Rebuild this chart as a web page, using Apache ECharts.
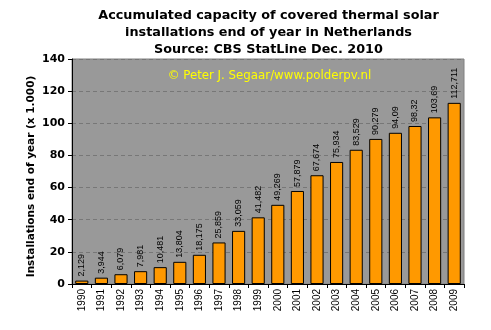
<!DOCTYPE html>
<html><head><meta charset="utf-8">
<script src="https://cdn.jsdelivr.net/npm/echarts@6/dist/echarts.min.js"></script>
<style>html,body{margin:0;padding:0;background:#fff}#c{width:491px;height:330px}</style>
</head><body><div id="c"></div>
<script>
const years = ['1990','1991','1992','1993','1994','1995','1996','1997','1998','1999','2000','2001','2002','2003','2004','2005','2006','2007','2008','2009'];
const values = [2.129,3.944,6.079,7.981,10.481,13.804,18.175,25.859,33.059,41.482,49.269,57.879,67.674,75.934,83.529,90.279,94.09,98.32,103.69,112.711];
const valueLabels = ['2,129','3,944','6,079','7,981','10,481','13,804','18,175','25,859','33,059','41,482','49,269','57,879','67,674','75,934','83,529','90,279','94,09','98,32','103,69','112,711'];
const titleLines = ['Accumulated capacity of covered thermal solar','installations end of year in Netherlands','Source: CBS StatLine Dec. 2010'];
const yAxisTitle = 'Installations end of year (x 1.000)';
const watermark = '\u00a9 Peter J. Segaar/www.polderpv.nl';

const chart = echarts.init(document.getElementById('c'));
chart.setOption({
  animation:false,
  backgroundColor:'#ffffff',
  graphic:[
    {type:'text',x:268.5,y:32.5,style:{text:titleLines.join('\n'),fill:'#000',textAlign:'center',textVerticalAlign:'middle',
      lineHeight:17,font:'bold 12.8px "DejaVu Sans", sans-serif'}},
    {type:'text',x:269.5,y:76,style:{text:watermark,fill:'#ffff00',textAlign:'center',textVerticalAlign:'middle',
      font:'11.8px "DejaVu Sans", sans-serif'}},
    {type:'text',x:31,y:176.5,rotation:Math.PI/2,style:{text:yAxisTitle,fill:'#000',textAlign:'center',textVerticalAlign:'middle',
      font:'bold 10.5px "DejaVu Sans", sans-serif'}}
  ],
  grid:{left:72,right:27,top:59,bottom:46,show:true,backgroundColor:'#999999',borderColor:'#808080',borderWidth:1},
  xAxis:{type:'category',data:years,
    axisLine:{show:true,lineStyle:{color:'#000',width:1}},
    axisTick:{show:true,alignWithLabel:false,length:4,lineStyle:{color:'#000'}},
    axisLabel:{rotate:90,interval:0,fontFamily:'Liberation Sans',fontSize:10,color:'#000',margin:5}},
  yAxis:{type:'value',min:0,max:140,interval:20,
    axisLine:{show:true,lineStyle:{color:'#000'}},
    axisTick:{show:true,length:4,lineStyle:{color:'#000'}},
    axisLabel:{fontFamily:'DejaVu Sans',fontWeight:'bold',fontSize:11,color:'#000',margin:7},
    splitLine:{show:true,lineStyle:{color:'#777777',type:[4,3],width:1}}},
  series:[{type:'bar',data:values,barCategoryGap:'33%',
    itemStyle:{color:'#ff9900',borderColor:'#000',borderWidth:1},
    label:{show:true,position:'top',rotate:90,align:'left',verticalAlign:'middle',distance:4,
      fontFamily:'Liberation Sans',fontSize:9,color:'#000',
      formatter:p=>valueLabels[p.dataIndex]}}]
});
</script></body></html>
